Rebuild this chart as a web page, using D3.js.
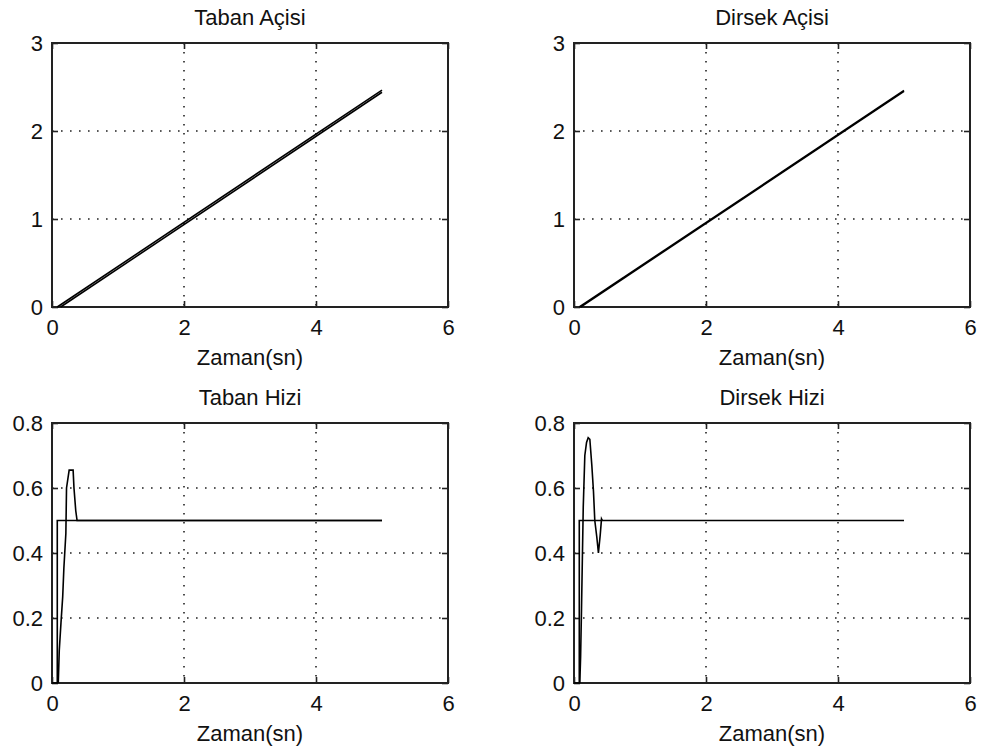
<!DOCTYPE html>
<html>
<head>
<meta charset="utf-8">
<script src="https://cdn.jsdelivr.net/npm/d3@7"></script>
<style>
  html, body { margin: 0; padding: 0; background: #fff; }
  svg { display: block; font-family: "Liberation Sans", Arial, sans-serif; }
</style>
</head>
<body>
<svg id="chart" width="984" height="756"></svg>
<script>
// ---- data ----
const timeTicks = [0, 2, 4, 6];
const angleTicks = [0, 1, 2, 3];
const speedTicks = [0, 0.2, 0.4, 0.6, 0.8];

const titles = ["Taban Açisi", "Dirsek Açisi", "Taban Hizi", "Dirsek Hizi"];
const xLabel = "Zaman(sn)";

// Taban açısı (reference and response)
const tabanAngleRefT = [0.08, 5];
const tabanAngleRef = [0, 2.465];
const tabanAngleT = [0.13, 5];
const tabanAngle = [0, 2.44];

// Dirsek açısı
const dirsekAngleRefT = [0.08, 5];
const dirsekAngleRef = [0, 2.46];
const dirsekAngleT = [0.1, 5];
const dirsekAngle = [0, 2.45];

// Taban hızı
const tabanSpeedRefT = [0, 0.08, 0.08, 5];
const tabanSpeedRef = [0, 0, 0.5, 0.5];
const tabanSpeedT = [0.095, 0.11, 0.136, 0.162, 0.18, 0.21, 0.22, 0.26, 0.32, 0.333, 0.36, 0.38, 5];
const tabanSpeed = [0, 0.10, 0.185, 0.265, 0.354, 0.46, 0.6, 0.655, 0.655, 0.6, 0.53, 0.5, 0.5];

// Dirsek hızı
const dirsekSpeedRefT = [0, 0.08, 0.08, 5];
const dirsekSpeedRef = [0, 0, 0.5, 0.5];
const dirsekSpeedT = [0.088, 0.1, 0.114, 0.14, 0.164, 0.19, 0.215, 0.24, 0.27, 0.295, 0.315, 0.345, 0.37, 0.397, 0.417, 0.43];
const dirsekSpeed = [0, 0.08, 0.23, 0.54, 0.70, 0.74, 0.755, 0.75, 0.67, 0.59, 0.5, 0.45, 0.40, 0.455, 0.505, 0.5];

// ---- layout ----
const svg = d3.select("#chart");
const panels = [
  { left: 52,  top: 43,  yDomain: [0, 3],   yTicks: angleTicks, yFmt: d3.format("d"),
    series: [[tabanAngleRefT, tabanAngleRef], [tabanAngleT, tabanAngle]] },
  { left: 574, top: 43,  yDomain: [0, 3],   yTicks: angleTicks, yFmt: d3.format("d"),
    series: [[dirsekAngleRefT, dirsekAngleRef], [dirsekAngleT, dirsekAngle]] },
  { left: 52,  top: 423, yDomain: [0, 0.8], yTicks: speedTicks, yFmt: d => d === 0 ? "0" : d3.format(".1f")(d),
    series: [[tabanSpeedRefT, tabanSpeedRef], [tabanSpeedT, tabanSpeed]] },
  { left: 574, top: 423, yDomain: [0, 0.8], yTicks: speedTicks, yFmt: d => d === 0 ? "0" : d3.format(".1f")(d),
    series: [[dirsekSpeedRefT, dirsekSpeedRef], [dirsekSpeedT, dirsekSpeed]] }
];
const W = 396, H_TOP = 264, H_BOT = 260;

panels.forEach((p, i) => {
  const h = i < 2 ? H_TOP : H_BOT;
  const x = d3.scaleLinear().domain([0, 6]).range([p.left, p.left + W]);
  const y = d3.scaleLinear().domain(p.yDomain).range([p.top + h, p.top]);
  const g = svg.append("g");

  // grid
  g.append("g").selectAll("line").data(timeTicks.slice(1, -1)).join("line")
    .attr("x1", d => x(d)).attr("x2", d => x(d))
    .attr("y1", p.top).attr("y2", p.top + h)
    .attr("stroke", "#222").attr("stroke-width", 1.6).attr("stroke-dasharray", "1.6,7.4");
  g.append("g").selectAll("line").data(p.yTicks.slice(1, -1)).join("line")
    .attr("x1", p.left).attr("x2", p.left + W)
    .attr("y1", d => y(d)).attr("y2", d => y(d))
    .attr("stroke", "#222").attr("stroke-width", 1.6).attr("stroke-dasharray", "1.6,7.4");

  // axes (ticks inside)
  const styleAxis = sel => {
    sel.select(".domain").remove();
    sel.selectAll(".tick line").attr("stroke", "#222").attr("stroke-width", 1.6);
    sel.selectAll("text").attr("fill", "#111").style("font-size", "22px");
  };
  g.append("g").attr("transform", `translate(0,${p.top + h})`)
    .call(d3.axisBottom(x).tickValues(timeTicks).tickSizeInner(-6).tickSizeOuter(0).tickPadding(12).tickFormat(d3.format("d")))
    .call(styleAxis);
  g.append("g").attr("transform", `translate(0,${p.top})`)
    .call(d3.axisTop(x).tickValues(timeTicks).tickSizeInner(-6).tickSizeOuter(0).tickFormat(""))
    .call(styleAxis);
  g.append("g").attr("transform", `translate(${p.left},0)`)
    .call(d3.axisLeft(y).tickValues(p.yTicks).tickSizeInner(-6).tickSizeOuter(0).tickPadding(9).tickFormat(p.yFmt))
    .call(styleAxis);
  g.append("g").attr("transform", `translate(${p.left + W},0)`)
    .call(d3.axisRight(y).tickValues(p.yTicks).tickSizeInner(-6).tickSizeOuter(0).tickFormat(""))
    .call(styleAxis);

  // box
  g.append("rect").attr("x", p.left).attr("y", p.top).attr("width", W).attr("height", h)
    .attr("fill", "none").attr("stroke", "#222").attr("stroke-width", 2);

  // series
  const line = d3.line().x(d => x(d[0])).y(d => y(d[1]));
  p.series.forEach(([ts, vs]) => {
    g.append("path").datum(ts.map((t, k) => [t, vs[k]]))
      .attr("d", line).attr("fill", "none").attr("stroke", "#000").attr("stroke-width", 1.6);
  });

  // title & x label
  g.append("text").attr("x", p.left + W / 2).attr("y", p.top - 18)
    .attr("text-anchor", "middle").attr("fill", "#111").style("font-size", "22px").text(titles[i]);
  g.append("text").attr("x", p.left + W / 2).attr("y", p.top + h + 58)
    .attr("text-anchor", "middle").attr("fill", "#111").style("font-size", "22px").text(xLabel);
});
</script>
</body>
</html>
